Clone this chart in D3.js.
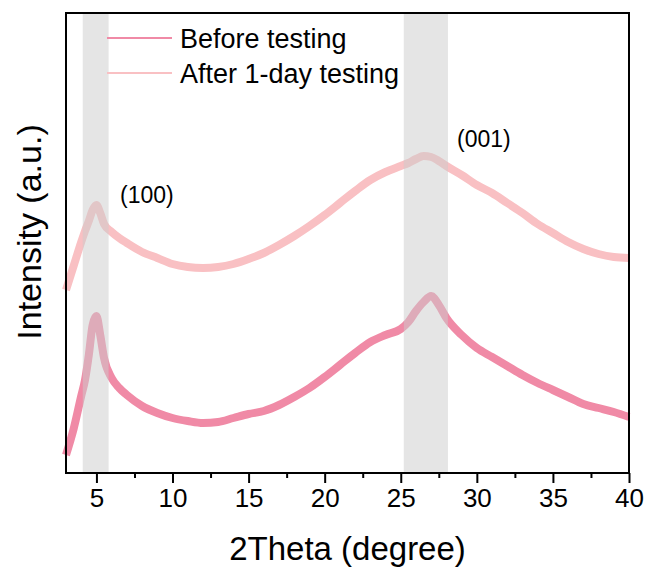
<!DOCTYPE html>
<html>
<head>
<meta charset="utf-8">
<script src="https://cdn.jsdelivr.net/npm/d3@7"></script>
<style>
    body { margin: 0; background: #fff; }
    text { font-family: "Liberation Sans", Arial, sans-serif; fill: #000; }
</style>
</head>
<body>
<script>
//XRD patterns before / after testing

(function(){

//2theta positions (degree)
var twoTheta = [3, 3.5, 4, 4.25, 4.5, 4.75, 5, 5.25, 5.5, 6, 6.5, 7, 8, 9, 10, 11, 12, 13, 14, 15,
    16, 17, 18, 19, 20, 21, 22, 23, 24, 25, 25.5, 26, 26.5, 27, 27.5, 28, 29, 30, 31, 32,
    33, 34, 35, 36, 37, 38, 39, 40];

//intensity (a.u.)
var beforeTesting = [18, 44, 77, 93, 118, 148, 157, 138, 115, 95, 85, 78, 67, 60, 55, 52, 50, 51, 55, 59,
    62, 68, 76, 85, 96, 108, 120, 131, 138, 144, 151, 162, 171, 177, 168, 155, 138, 125, 116, 107,
    98, 90, 83, 76, 69, 65, 61, 56];

var afterTesting = [183, 207, 231, 242, 252, 263, 268, 260, 249, 241, 235, 230, 221, 215, 209, 206, 205, 206, 209, 214,
    220, 228, 237, 247, 258, 270, 282, 293, 301, 307, 310, 314, 317, 316, 312, 307, 298, 288, 280, 270,
    260, 249, 240, 231, 224, 219, 216, 215];

var seriesNames = ["Before testing", "After 1-day testing"];
var seriesColors = ["#f08aa6", "#f9c0c3"];

//shaded peak regions and their labels
var bandRanges = [[4.1, 5.8], [25.2, 28.1]];
var peakLabels = ["(100)", "(001)"];
var peakLabelPos = [[6.55, 270], [28.7, 326]];

var majorTicks = [5, 10, 15, 20, 25, 30, 35, 40];
var minorTicks = [7.5, 12.5, 17.5, 22.5, 27.5, 32.5, 37.5];

window.onload = setChart;

function setChart(){
    var width = 648,
        height = 570,
        left = 66,
        top = 13,
        innerWidth = 563,
        innerHeight = 460;

    var svg = d3.select("body")
        .append("svg")
        .attr("width", width)
        .attr("height", height);

    var x = d3.scaleLinear()
        .domain([3, 40])
        .range([left, left + innerWidth]);

    var y = d3.scaleLinear()
        .domain([0, 460])
        .range([top + innerHeight, top]);

    var line = d3.line()
        .curve(d3.curveMonotoneX)
        .x(function(d){ return x(d[0]); })
        .y(function(d){ return y(d[1]); });

    //draw the "after" trace first so "before" sits on top
    [afterTesting, beforeTesting].forEach(function(vals, k){
        var pts = twoTheta.map(function(t, i){ return [t, vals[i]]; });
        svg.append("path")
            .datum(pts)
            .attr("class", "trace")
            .attr("d", line)
            .attr("fill", "none")
            .attr("stroke", seriesColors[1 - k])
            .attr("stroke-width", 8)
            .attr("stroke-linejoin", "round");
    });

    //gray bands lie over the traces
    svg.selectAll(".band")
        .data(bandRanges)
        .enter()
        .append("rect")
        .attr("class", "band")
        .attr("x", function(d){ return x(d[0]); })
        .attr("width", function(d){ return x(d[1]) - x(d[0]); })
        .attr("y", top)
        .attr("height", innerHeight)
        .attr("fill", "#cccccc")
        .attr("fill-opacity", 0.5);

    svg.selectAll(".peakLabel")
        .data(peakLabels)
        .enter()
        .append("text")
        .attr("class", "peakLabel")
        .attr("x", function(d, i){ return x(peakLabelPos[i][0]); })
        .attr("y", function(d, i){ return y(peakLabelPos[i][1]); })
        .style("font-size", "23px")
        .text(function(d){ return d; });

    //x axis: major and minor ticks pointing down
    var xAxis = d3.axisBottom(x)
        .tickValues(majorTicks)
        .tickSize(10)
        .tickPadding(6)
        .tickFormat(d3.format("d"));

    var gx = svg.append("g")
        .attr("class", "axis")
        .attr("transform", "translate(0," + (top + innerHeight) + ")")
        .call(xAxis);
    gx.select(".domain").remove();
    gx.selectAll("line").attr("stroke", "#000").attr("stroke-width", 2);
    gx.selectAll("text").style("font-size", "26px");

    var gMinor = svg.append("g")
        .attr("transform", "translate(0," + (top + innerHeight) + ")")
        .call(d3.axisBottom(x).tickValues(minorTicks).tickSize(5).tickFormat(""));
    gMinor.select(".domain").remove();
    gMinor.selectAll("line").attr("stroke", "#000").attr("stroke-width", 2);

    //frame
    svg.append("rect")
        .attr("class", "chartFrame")
        .attr("x", left)
        .attr("y", top)
        .attr("width", innerWidth)
        .attr("height", innerHeight)
        .attr("fill", "none")
        .attr("stroke", "#000")
        .attr("stroke-width", 2);

    //axis titles
    svg.append("text")
        .attr("x", left + innerWidth / 2)
        .attr("y", 560)
        .attr("text-anchor", "middle")
        .style("font-size", "33px")
        .text("2Theta (degree)");

    svg.append("text")
        .attr("text-anchor", "middle")
        .attr("transform", "translate(41,232) rotate(-90)")
        .style("font-size", "34px")
        .text("Intensity (a.u.)");

    //legend
    var legend = svg.selectAll(".legend")
        .data(seriesNames)
        .enter()
        .append("g")
        .attr("class", "legend")
        .attr("transform", function(d, i){ return "translate(0," + (38 + i * 35) + ")"; });

    legend.append("line")
        .attr("x1", 107)
        .attr("x2", 172)
        .attr("stroke", function(d, i){ return seriesColors[i]; })
        .attr("stroke-width", 2);

    legend.append("text")
        .attr("x", 180)
        .attr("y", 10)
        .style("font-size", "27px")
        .text(function(d){ return d; });
}

})();
</script>
</body>
</html>
